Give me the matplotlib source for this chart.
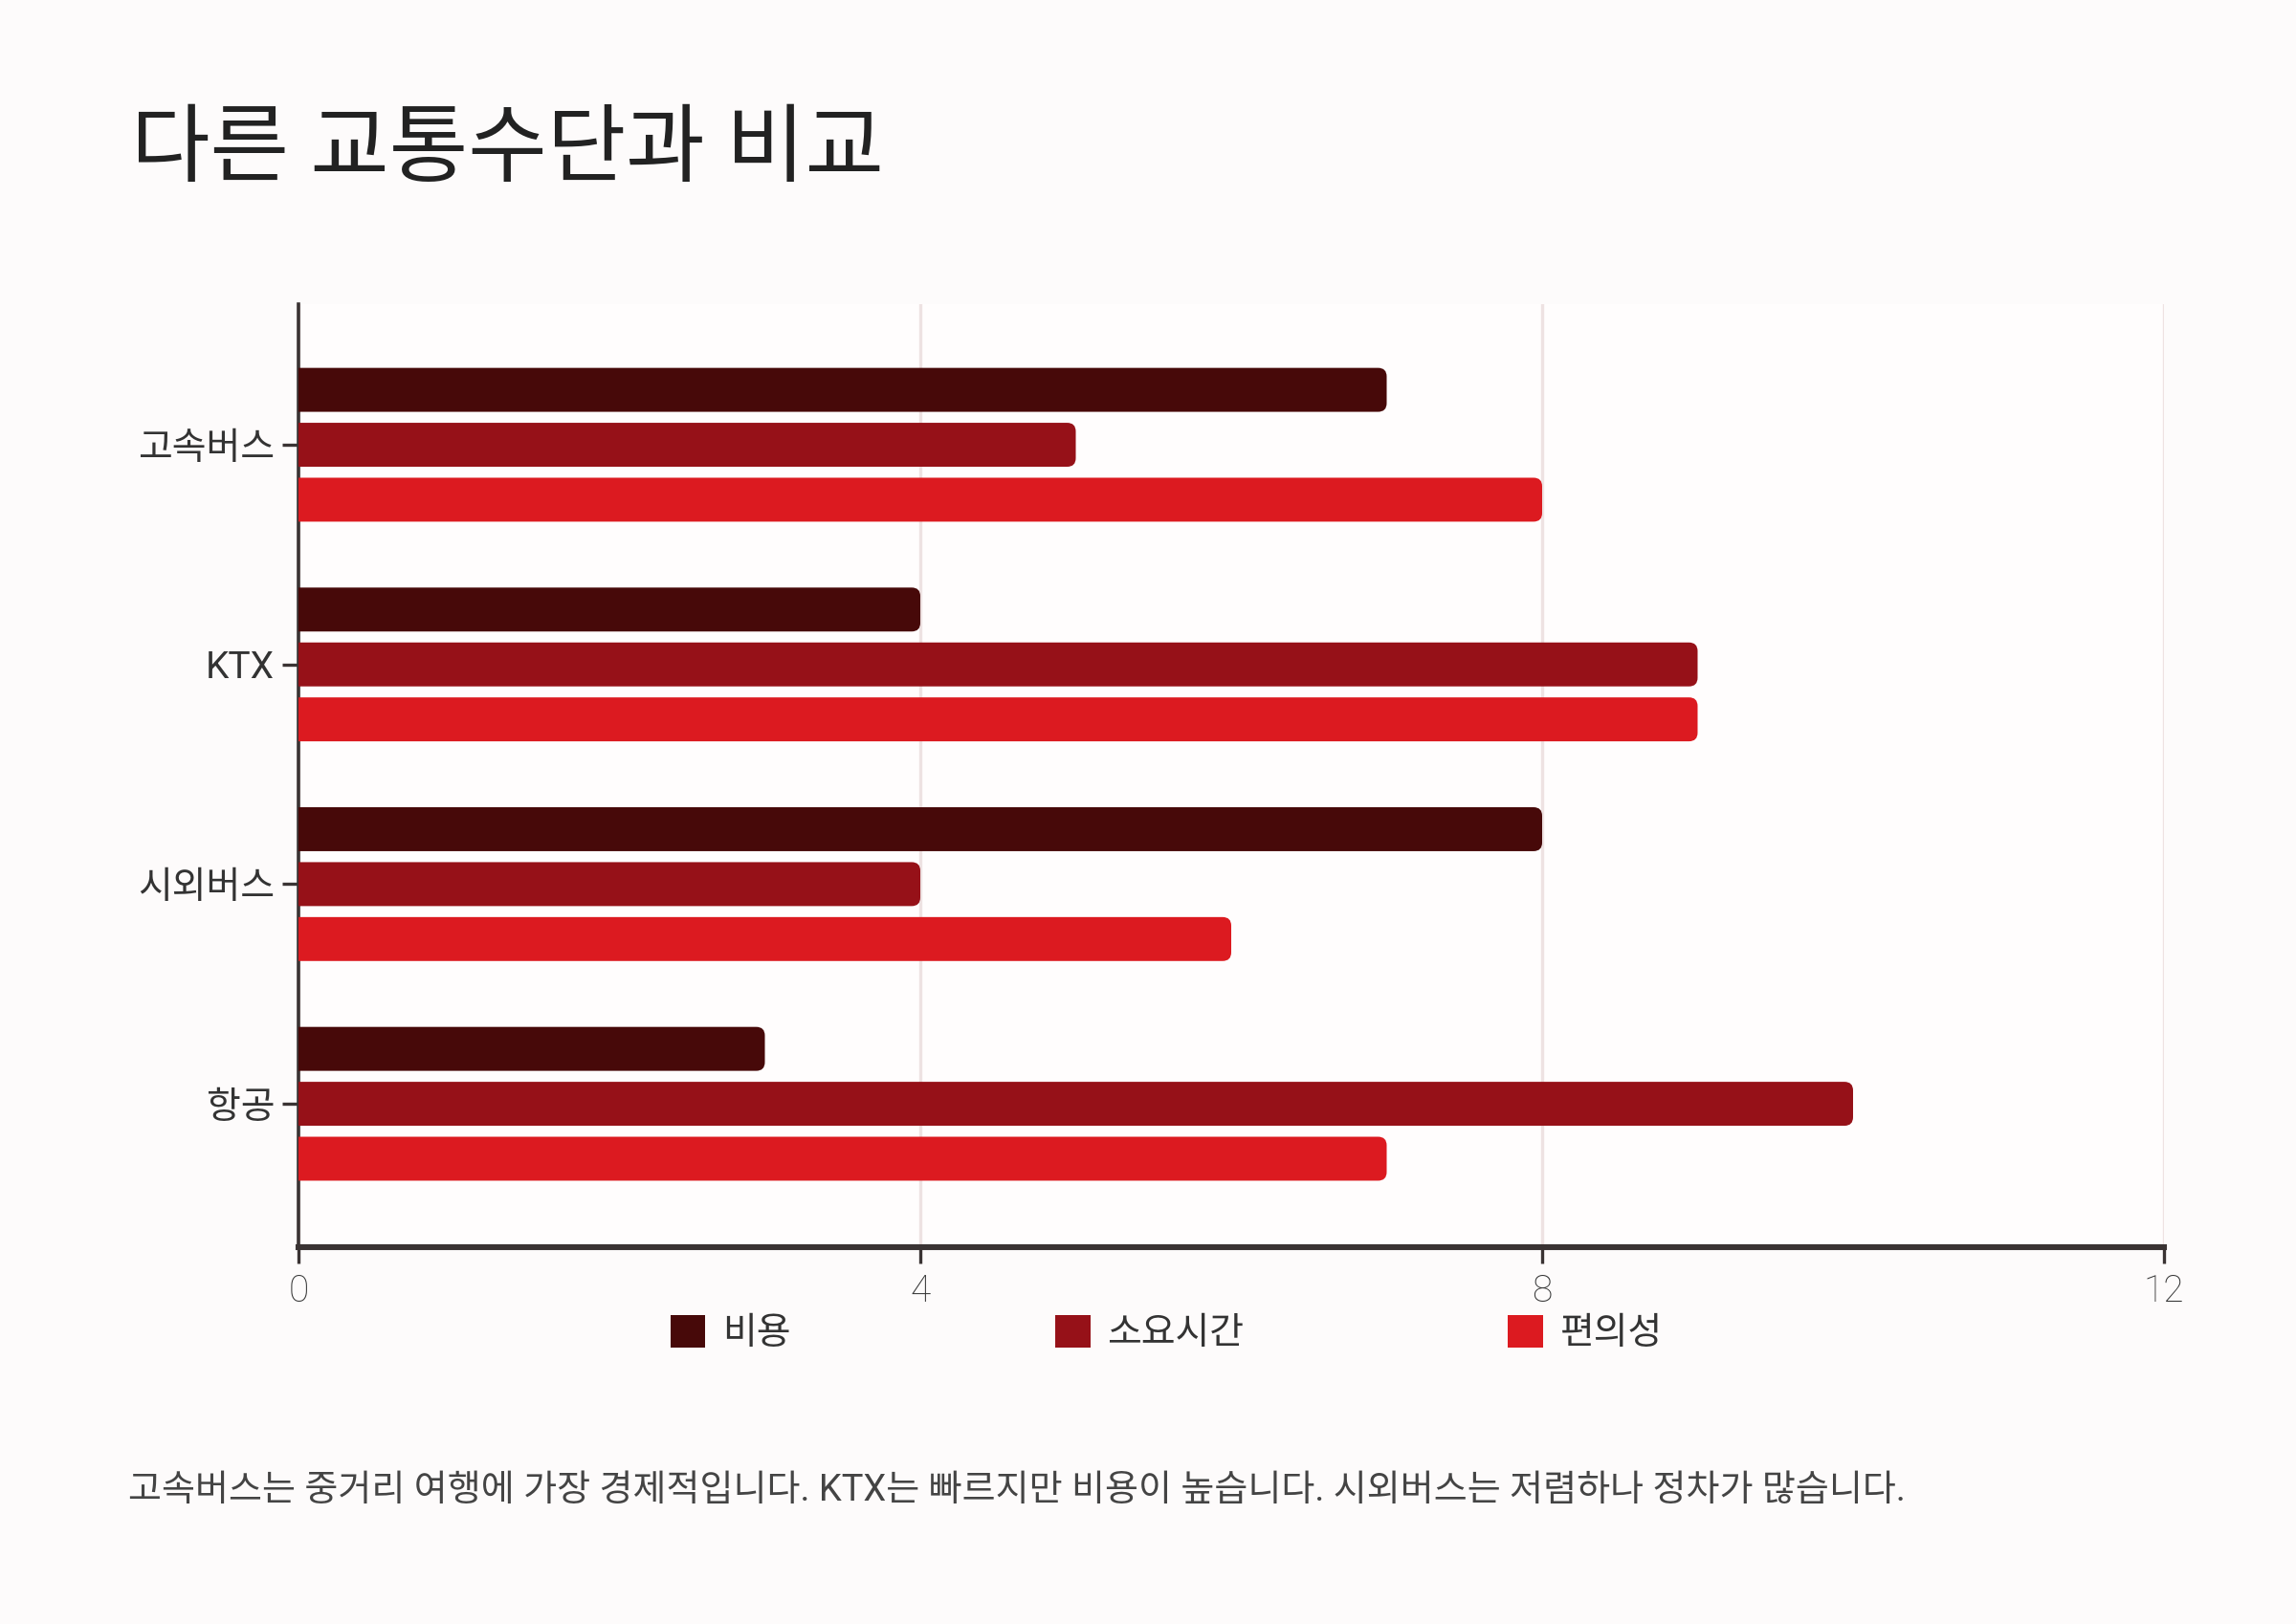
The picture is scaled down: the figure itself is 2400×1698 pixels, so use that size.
import matplotlib
matplotlib.use("Agg")
import matplotlib.pyplot as plt
from matplotlib.patches import FancyBboxPatch, Patch
import numpy as np

plt.rcParams['font.family'] = ['Roboto', 'Noto Sans CJK KR', 'DejaVu Sans']

# data
categories = ["고속버스", "KTX", "시외버스", "항공"]
series_names = ["비용", "소요시간", "편의성"]
cost = [7, 4, 8, 3]
time_taken = [5, 9, 4, 10]
convenience = [8, 9, 6, 7]
x_ticks = [0, 4, 8, 12]

title = "다른 교통수단과 비교"
footnote = "고속버스는 중거리 여행에 가장 경제적입니다. KTX는 빠르지만 비용이 높습니다. 시외버스는 저렴하나 정차가 많습니다."

colors = ["#470909", "#961118", "#dc1a20"]
series = [cost, time_taken, convenience]

fig = plt.figure(figsize=(12, 8.49), dpi=200)
fig.patch.set_facecolor("#fdfbfb")
ax = fig.add_axes([0.13, 0.232, 0.8125, 0.5807])
ax.set_facecolor("#fffdfd")

ax.set_xlim(0, 12)
ax.set_ylim(3.653, -0.64)

# rounded bars
y = np.arange(len(categories))
offsets = [-0.25, 0, 0.25]
bar_h = 0.2
px_x = 12 / (0.8125 * 2400)
px_y = 4.293 / (0.5807 * 1698)
r = 9 * px_x
for vals, off, col in zip(series, offsets, colors):
    for yi, v in zip(y, vals):
        p = FancyBboxPatch((-0.2, yi + off - bar_h / 2), v + 0.2, bar_h,
                           boxstyle="round,pad=0,rounding_size=%f" % r,
                           mutation_aspect=px_y / px_x,
                           facecolor=col, edgecolor="none", zorder=3)
        ax.add_patch(p)

ax.set_xticks(x_ticks)
ax.set_xticklabels([str(t) for t in x_ticks])
ax.set_yticks(y)
ax.set_yticklabels(categories)
ax.grid(axis="x", color="#eee2e2", linewidth=1.2, zorder=0)
ax.set_axisbelow(True)

for s in ["top", "right"]:
    ax.spines[s].set_visible(False)
ax.spines["left"].set_color("#3a3333")
ax.spines["left"].set_linewidth(1.3)
ax.spines["bottom"].set_color("#3a3333")
ax.spines["bottom"].set_linewidth(2.2)

ax.tick_params(axis="y", length=6, width=1.2, color="#3a3333", pad=3,
               labelsize=14, labelcolor="#333333")
ax.tick_params(axis="x", length=6, width=1.2, color="#3a3333", pad=4,
               labelsize=14, labelcolor="#333333")
for lab in ax.get_xticklabels():
    lab.set_fontweight("light")

handles = [Patch(facecolor=c, edgecolor="none") for c in colors]
leg = fig.legend(handles, series_names, loc="center", bbox_to_anchor=(0.508, 0.179),
                 ncol=3, frameon=False, fontsize=14, handlelength=0.95,
                 handleheight=0.95, handletextpad=0.45, columnspacing=7.1)
for t in leg.get_texts():
    t.set_color("#333333")

fig.text(0.057, 0.907, title, fontsize=32.3, color="#222222", va="center", ha="left")
fig.text(0.056, 0.082, footnote, fontsize=13.7, color="#444444", va="center",
         ha="left")

fig.savefig("out.png", dpi=200, facecolor=fig.get_facecolor())
